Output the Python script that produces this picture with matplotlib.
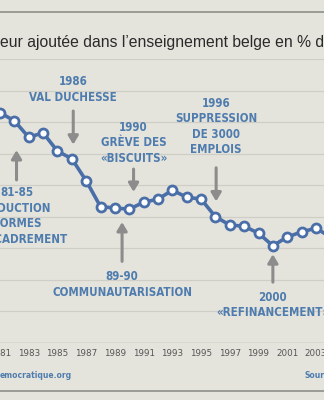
import matplotlib.pyplot as plt

# data (share of GDP, %)
years = [1980, 1981, 1982, 1983, 1984, 1985, 1986, 1987, 1988, 1989, 1990, 1991,
         1992, 1993, 1994, 1995, 1996, 1997, 1998, 1999, 2000, 2001, 2002, 2003, 2004]
share = [7.85, 7.65, 7.52, 7.26, 7.33, 7.04, 6.92, 6.57, 6.16, 6.14, 6.12, 6.23,
         6.28, 6.42, 6.31, 6.28, 6.00, 5.87, 5.85, 5.74, 5.54, 5.68, 5.76, 5.82, 5.68]
tick_years = list(range(1981, 2004, 2))

title = "eur ajoutée dans l\u2019enseignement belge en % d"

# text, x, top of text, arrow start, arrow tip
notes = [
    ("1986\nVAL DUCHESSE", 1986.1, 8.24, 7.72, 7.1),
    ("1990\nGRÈVE DES\n«BISCUITS»", 1990.3, 7.52, 6.8, 6.35),
    ("1996\nSUPPRESSION\nDE 3000\nEMPLOIS", 1996.05, 7.9, 6.82, 6.2),
    ("81-85\nRÉDUCTION\nNORMES\nD\u2019ENCADREMENT", 1982.15, 6.48, 6.54, 7.1),
    ("89-90\nCOMMUNAUTARISATION", 1989.5, 5.15, 5.25, 5.96),
    ("2000\n«REFINANCEMENT»", 2000.0, 4.83, 4.92, 5.45),
]

bg = '#e5e4dc'
blue = '#4a6fa8'
note_blue = '#4f7cae'
arrow_grey = '#8c8c8c'

fig = plt.figure(figsize=(3.24, 4.0), dpi=100, facecolor=bg)
ax = fig.add_axes([0, 0.1425, 1, 0.71])
ax.set_facecolor(bg)

ax.plot(years, share, color=blue, lw=2.6, marker='o', ms=6.5,
        mfc='white', mec=blue, mew=2.0, zorder=3)

ax.set_xlim(1981.06, 2003.56)
ax.set_ylim(4.0, 8.5)
ax.set_yticks([4.0 + 0.5 * i for i in range(10)])
ax.yaxis.grid(True, color='#cfcec6', lw=0.9)
ax.set_axisbelow(True)
ax.tick_params(left=False, labelleft=False, bottom=False)
ax.set_xticks(tick_years)
ax.set_xticklabels([str(y) for y in tick_years], fontsize=6.3, color='#555555')
ax.tick_params(axis='x', pad=1)
for s in ax.spines.values():
    s.set_visible(False)
ax.axhline(4.0, color='#b8b7b0', lw=1.0, zorder=1)

for text, x, ty, a0, a1 in notes:
    ax.text(x, ty, text, ha='center', va='top', fontsize=8.3,
            fontweight='bold', family='DejaVu Sans', fontstretch='condensed',
            color=note_blue, linespacing=1.24, zorder=4)
    ax.annotate('', xy=(x, a1), xytext=(x, a0),
                arrowprops=dict(arrowstyle='-|>,head_width=0.3,head_length=0.5',
                                color=arrow_grey, lw=2.2), zorder=2)

# paper lines and headings outside the plot area
for y in (0.97, 0.0225):
    fig.add_artist(plt.Line2D([0, 1], [y, y], color='#8f8f8a', lw=1.2))
fig.text(0.0, 0.893, title, fontsize=11.3, family='Liberation Sans',
         color='#2a2a2a', va='center', ha='left')
fig.text(0.0, 0.0625, "emocratique.org", fontsize=5.5, color=note_blue,
         fontweight='bold', va='center')
fig.text(0.94, 0.0625, "Source", fontsize=5.5, color=note_blue,
         fontweight='bold', va='center')

fig.savefig('out.png', dpi=100, facecolor=bg)
